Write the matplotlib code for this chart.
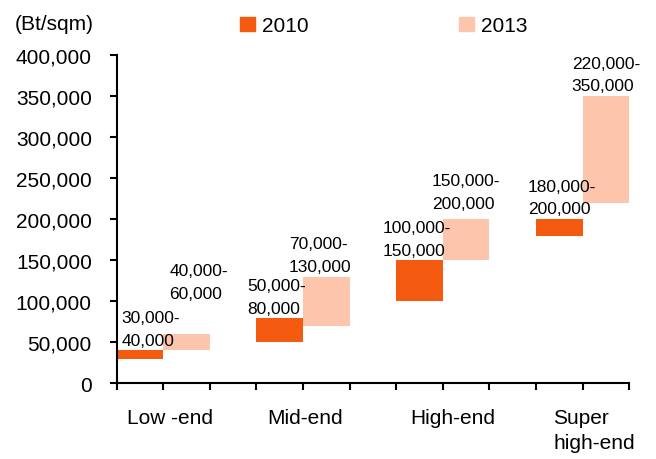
import matplotlib
matplotlib.use('Agg')
import matplotlib.pyplot as plt
from matplotlib.patches import Patch

plt.rcParams['font.family'] = ['Liberation Sans', 'DejaVu Sans']

categories = ['Low -end', 'Mid-end', 'High-end', 'Super\nhigh-end']
low_2010 = [30000, 50000, 100000, 180000]
high_2010 = [40000, 80000, 150000, 200000]
low_2013 = [40000, 70000, 150000, 220000]
high_2013 = [60000, 130000, 200000, 350000]

# label nudges in points (dx, dy) so the range texts sit clear of each other
nudge_2010 = [(8, 1.5), (-2, 1), (-2, 1.5), (2, 2)]
nudge_2013 = [(8.5, 24), (-4.5, 2), (0, 6), (0, 2)]
# category label centres along x (bars occupy unit slots, gap after each pair)
cat_pos = [1.14, 4.05, 7.21, 10.25]

c2010 = '#F45A10'
c2013 = '#FDC6AC'

fig = plt.figure(figsize=(6.56, 4.6), dpi=100, facecolor='white')
ax = fig.add_axes([0.178, 0.165, 0.781, 0.713])


def fmt(v):
    return '{:,}'.format(v)


for i, cat in enumerate(categories):
    x0 = 3 * i
    for x, lo, hi, col, nd in [(x0 + 0.5, low_2010[i], high_2010[i], c2010, nudge_2010[i]),
                               (x0 + 1.5, low_2013[i], high_2013[i], c2013, nudge_2013[i])]:
        ax.bar(x, hi - lo, bottom=lo, width=1.0, color=col, linewidth=0)
        ax.annotate(fmt(lo) + '-\n' + fmt(hi), (x, hi),
                    xytext=nd, textcoords='offset points',
                    ha='center', va='bottom', multialignment='left',
                    fontsize=12.5, linespacing=1.65)

ax.set_xlim(0, 11)
ax.set_ylim(0, 400000)
ax.set_yticks(range(0, 400001, 50000))
ax.set_yticklabels([fmt(v) for v in range(0, 400001, 50000)])
ax.set_xticks(range(0, 12))
ax.set_xticklabels([])
ax.set_xticks(cat_pos, minor=True)
ax.set_xticklabels(categories, minor=True, multialignment='left',
                   linespacing=1.4)

for s in ['top', 'right']:
    ax.spines[s].set_visible(False)
for s in ['left', 'bottom']:
    ax.spines[s].set_linewidth(1.5)

ax.tick_params(axis='y', which='major', direction='out', length=5, width=1.5,
               labelsize=15, pad=13)
ax.tick_params(axis='x', which='major', direction='out', length=5, width=1.5)
ax.tick_params(axis='x', which='minor', length=0, labelsize=15, pad=18)

fig.text(0.022, 0.946, '(Bt/sqm)', fontsize=15, va='center', ha='left')

handles = [Patch(color=c2010, label='2010'), Patch(color=c2013, label='2013')]
fig.legend(handles=handles, loc='center left', bbox_to_anchor=(0.366, 0.942),
           ncol=2, frameon=False, fontsize=15, handlelength=0.72,
           handleheight=0.65, handletextpad=0.34, columnspacing=7.2,
           borderaxespad=0, borderpad=0)

fig.savefig('out.png', dpi=100, facecolor='white')
